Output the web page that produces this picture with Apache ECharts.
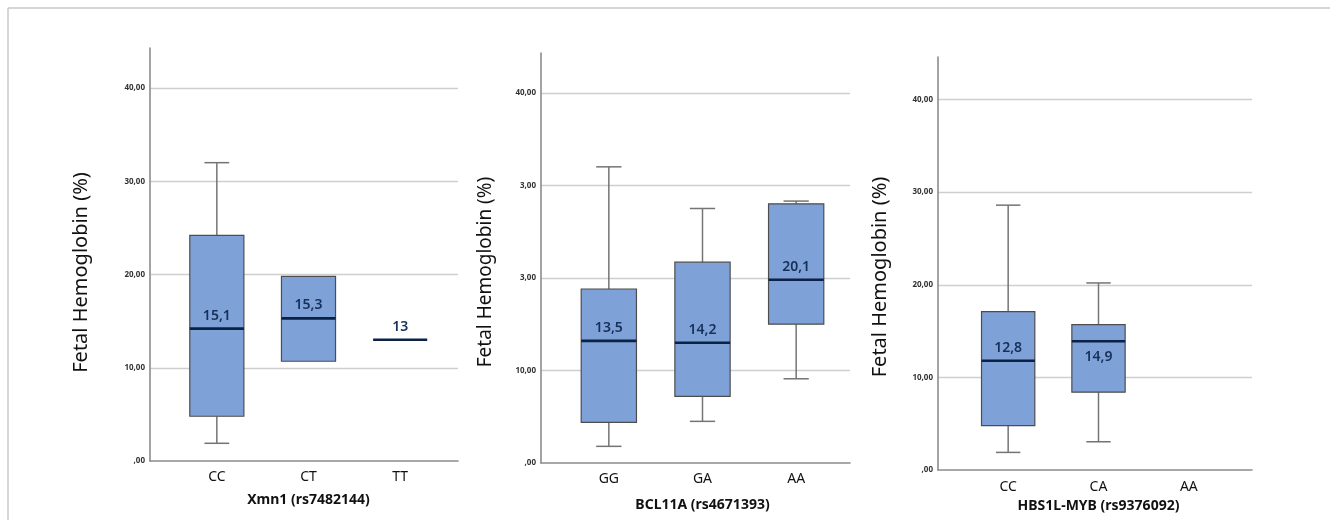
<!DOCTYPE html>
<html>
<head>
<meta charset="utf-8">
<script src="https://cdn.jsdelivr.net/npm/echarts@6/dist/echarts.min.js"></script>
<style>
  html, body { margin: 0; padding: 0; background: #fff; }
  #chart { width: 1330px; height: 520px; }
</style>
</head>
<body>
<div id="chart"></div>
<script>
// ---- Data ----
// each box: [min, Q1, median, Q3, max]
const cats1 = ['CC', 'CT', 'TT'];
const box1 = [[1.9, 4.8, 14.2, 24.2, 32.0], [10.7, 10.7, 15.3, 19.8, 19.8], [13.0, 13.0, 13.0, 13.0, 13.0]];
const lbl1 = ['15,1', '15,3', '13'];
const lblPos1 = ['above', 'above', 'above'];

const cats2 = ['GG', 'GA', 'AA'];
const box2 = [[1.8, 4.4, 13.2, 18.8, 32.0], [4.5, 7.2, 13.0, 21.7, 27.5], [9.1, 15.0, 19.8, 28.0, 28.3]];
const lbl2 = ['13,5', '14,2', '20,1'];
const lblPos2 = ['above', 'above', 'above'];

const cats3 = ['CC', 'CA', 'AA'];
const box3 = [[1.9, 4.8, 11.8, 17.1, 28.6], [3.05, 8.4, 13.9, 15.7, 20.2]];
const lbl3 = ['12,8', '14,9'];
const lblPos3 = ['above', 'below'];

const yTicks1 = [',00', '10,00', '20,00', '30,00', '40,00'];
const yTicks2 = [',00', '10,00', '3,00', '3,00', '40,00'];
const yTicks3 = [',00', '10,00', '20,00', '30,00', '40,00'];

const xNames = ['Xmn1 (rs7482144)', 'BCL11A (rs4671393)', 'HBS1L-MYB (rs9376092)'];
const yName = 'Fetal Hemoglobin (%)';

// ---- Layout ----
const layout = [
  { bgLeft: 150, bgWidth: 308, boxLeft: 171, boxWidth: 275, top: 48, height: 413, max: 44.3, yGap: 59, ySize: 20, yShift: 36, catMargin: 9, nameGap: 32 },
  { bgLeft: 541, bgWidth: 309, boxLeft: 562, boxWidth: 281, top: 53, height: 410, max: 44.3, yGap: 46, ySize: 19, yShift: 28, catMargin: 9, nameGap: 35 },
  { bgLeft: 938, bgWidth: 314, boxLeft: 963, boxWidth: 271, top: 57, height: 413, max: 44.6, yGap: 48, ySize: 20, yShift: 27, catMargin: 10, nameGap: 28 }
];
const panels = [
  { cats: cats1, box: box1, lbl: lbl1, pos: lblPos1, ticks: yTicks1 },
  { cats: cats2, box: box2, lbl: lbl2, pos: lblPos2, ticks: yTicks2 },
  { cats: cats3, box: box3, lbl: lbl3, pos: lblPos3, ticks: yTicks3 }
];

const FONT = 'Noto Sans';
const BOX_FILL = '#7ea1d8';
const BOX_EDGE = '#4d4d4d';
const WHISKER = '#747474';
const MEDIAN = '#0c2146';
const LABEL = '#17305a';

function makeRender(labels, pos) {
  return function (params, api) {
    const i = api.value(0);
    const v = [api.value(1), api.value(2), api.value(3), api.value(4), api.value(5)];
    const band = api.size([1, 0])[0];
    const bw = band * 0.59;
    const cw = band * 0.27;
    const cx = api.coord([i, v[2]])[0];
    const y = v.map(function (val) { return api.coord([i, val])[1]; });
    const children = [];
    const lineStyle = { stroke: WHISKER, lineWidth: 1.5 };
    if (v[4] > v[3]) {
      children.push({ type: 'line', shape: { x1: cx, y1: y[3], x2: cx, y2: y[4] }, style: lineStyle });
      children.push({ type: 'line', shape: { x1: cx - cw / 2, y1: y[4], x2: cx + cw / 2, y2: y[4] }, style: lineStyle });
    }
    if (v[1] > v[0]) {
      children.push({ type: 'line', shape: { x1: cx, y1: y[1], x2: cx, y2: y[0] }, style: lineStyle });
      children.push({ type: 'line', shape: { x1: cx - cw / 2, y1: y[0], x2: cx + cw / 2, y2: y[0] }, style: lineStyle });
    }
    if (v[3] > v[1]) {
      children.push({ type: 'rect', shape: { x: cx - bw / 2, y: y[3], width: bw, height: y[1] - y[3] },
        style: { fill: BOX_FILL, stroke: BOX_EDGE, lineWidth: 1.2 } });
    }
    children.push({ type: 'line', shape: { x1: cx - bw / 2, y1: y[2], x2: cx + bw / 2, y2: y[2] },
      style: { stroke: MEDIAN, lineWidth: 2.6 } });
    const ly = pos[i] === 'below' ? y[2] + 16 : y[2] - 13;
    children.push({ type: 'text', style: { text: labels[i], x: cx, y: ly, align: 'center', verticalAlign: 'middle',
      fill: LABEL, font: '600 14px "' + FONT + '"' } });
    return { type: 'group', children: children };
  };
}

const grid = [], xAxis = [], yAxis = [], series = [];
layout.forEach(function (L, p) {
  const P = panels[p];
  grid.push({ left: L.bgLeft, top: L.top, width: L.bgWidth, height: L.height });
  grid.push({ left: L.boxLeft, top: L.top, width: L.boxWidth, height: L.height });
  const g0 = grid.length - 2, g1 = grid.length - 1;
  xAxis.push({ gridIndex: g0, type: 'value', min: 0, max: 1,
    axisLine: { show: true, lineStyle: { color: '#8c8c8c', width: 1.6 } },
    axisTick: { show: false }, axisLabel: { show: false }, splitLine: { show: false } });
  xAxis.push({ gridIndex: g1, type: 'category', data: P.cats,
    axisLine: { show: false }, axisTick: { show: false },
    axisLabel: { color: '#111', fontSize: 14, fontFamily: FONT, margin: L.catMargin },
    name: xNames[p], nameLocation: 'middle', nameGap: L.nameGap,
    nameTextStyle: { color: '#111', fontSize: 14, fontWeight: 'bold', fontFamily: FONT } });
  yAxis.push({ gridIndex: g0, type: 'value', min: 0, max: L.max, interval: 10,
    axisLine: { show: true, lineStyle: { color: '#8c8c8c', width: 1.6 } },
    axisTick: { show: false },
    axisLabel: { color: '#333', fontSize: 8, fontWeight: 'bold', fontFamily: FONT, margin: 5,
      formatter: (function (ticks) { return function (val) {
        const k = Math.round(val / 10);
        return Math.abs(val - k * 10) < 1e-6 && ticks[k] !== undefined ? ticks[k] : '';
      }; })(P.ticks) },
    splitLine: { show: true, showMinLine: false, showMaxLine: false, lineStyle: { color: '#cfcfcf', width: 1.3 } },
    name: yName, nameLocation: 'middle', nameGap: L.yGap,
    nameTextStyle: { color: '#111', fontSize: L.ySize, fontFamily: FONT, padding: [0, L.yShift, 0, 0] } });
  yAxis.push({ gridIndex: g1, type: 'value', min: 0, max: L.max, show: false, splitLine: { show: false } });
  series.push({
    type: 'custom', xAxisIndex: g1, yAxisIndex: g1,
    renderItem: makeRender(P.lbl, P.pos),
    encode: { x: 0, y: [1, 2, 3, 4, 5] },
    data: P.box.map(function (b, i) { return [i].concat(b); }),
    z: 5
  });
});

const chart = echarts.init(document.getElementById('chart'), null, { renderer: 'canvas' });
chart.setOption({
  animation: false,
  backgroundColor: '#ffffff',
  grid: grid, xAxis: xAxis, yAxis: yAxis, series: series,
  graphic: [
    { type: 'line', shape: { x1: 8, y1: 8, x2: 1330, y2: 8 }, style: { stroke: '#c9c9c9', lineWidth: 1.5 } },
    { type: 'line', shape: { x1: 8, y1: 8, x2: 8, y2: 520 }, style: { stroke: '#c9c9c9', lineWidth: 1.5 } }
  ]
});
</script>
</body>
</html>
